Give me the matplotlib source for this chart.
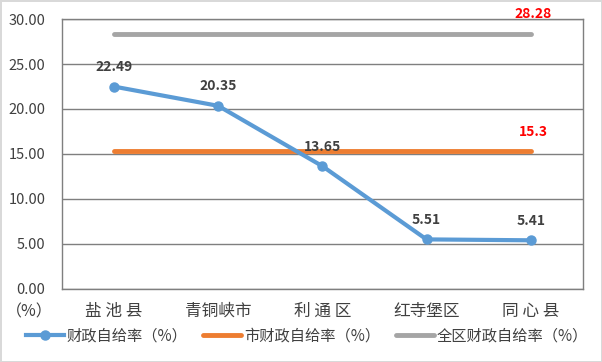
# 财政自给率 line chart

import matplotlib.pyplot as plt
import matplotlib

matplotlib.rcParams['font.family'] = ['Noto Sans CJK SC', 'DejaVu Sans']

regions = ["盐 池 县", "青铜峡市", "利 通 区", "红寺堡区", "同 心 县"]
county_rate = [22.49, 20.35, 13.65, 5.51, 5.41]
city_rate = [15.3, 15.3, 15.3, 15.3, 15.3]
region_rate = [28.28, 28.28, 28.28, 28.28, 28.28]
yticks = [0, 5, 10, 15, 20, 25, 30]

fig = plt.figure(figsize=(6.02, 3.62), dpi=100)
fig.patch.set_edgecolor("#d9d9d9")
fig.patch.set_linewidth(2)
ax = fig.add_axes([0.103, 0.2017, 0.865, 0.7458])

x = list(range(len(regions)))
l1, = ax.plot(x, county_rate, color="#5B9BD5", lw=3, marker="o", ms=6.5,
              label="财政自给率（%）", zorder=4)
l2, = ax.plot(x, city_rate, color="#ED7D31", lw=3.5, label="市财政自给率（%）",
              solid_capstyle="round", zorder=3)
l3, = ax.plot(x, region_rate, color="#A5A5A5", lw=3.5, label="全区财政自给率（%）",
              solid_capstyle="round", zorder=3)

for xi, v in zip(x, county_rate):
    ax.annotate("%.2f" % v, (xi, v), xytext=(0, 9), textcoords="offset points",
                ha="center", va="bottom", fontsize=10, fontweight="bold",
                color="#404040")
ax.annotate("15.3", (x[-1], city_rate[-1]), xytext=(2, 9), textcoords="offset points",
            ha="center", va="bottom", fontsize=10, fontweight="bold", color="red")
ax.annotate("28.28", (x[-1], region_rate[-1]), xytext=(2, 10), textcoords="offset points",
            ha="center", va="bottom", fontsize=10, fontweight="bold", color="red",
            annotation_clip=False)

ax.set_xlim(-0.5, len(regions) - 0.5)
ax.set_ylim(0, 30)
ax.set_yticks(yticks)
ax.set_yticklabels(["%.2f" % t for t in yticks], fontsize=10.5, color="#404040")
ax.set_xticks(x)
ax.set_xticklabels(regions, fontsize=12, color="#404040")
ax.tick_params(axis="y", length=0, pad=12)
ax.tick_params(axis="x", length=0, pad=10)
ax.grid(axis="y", color="#7f7f7f", lw=1)
ax.set_axisbelow(True)
for s in ax.spines.values():
    s.set_color("#7f7f7f")
    s.set_linewidth(1)

fig.text(29 / 602, 1 - 312 / 362, "（%）", fontsize=11.5, color="#404040",
         ha="center", va="center")

fig.legend(handles=[l1, l2, l3], loc="center", bbox_to_anchor=(0.51, 1 - 336 / 362),
           ncol=3, frameon=False, fontsize=11, handlelength=2.5,
           handletextpad=0.2, columnspacing=1.0, labelcolor="#404040")

fig.savefig("out.png", dpi=100)
